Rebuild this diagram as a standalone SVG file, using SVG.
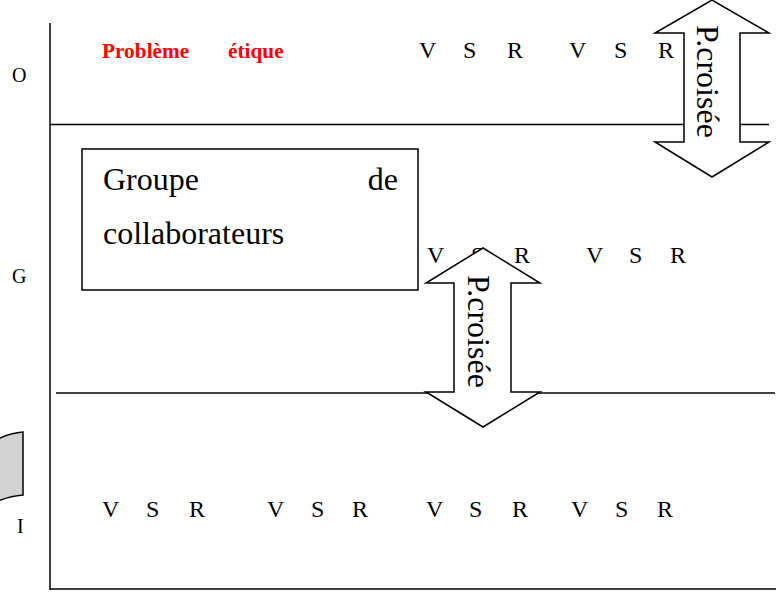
<svg xmlns="http://www.w3.org/2000/svg" width="779" height="595" viewBox="0 0 779 595">
<style>
.t{font-family:"Liberation Serif","Times New Roman",serif;fill:#000}
.v{font-size:24px}
.lbl{font-size:20px}
.big{font-size:32px}
.red{font-family:"Liberation Serif","Times New Roman",serif;font-weight:bold;font-size:21.33px;fill:#ff0000}
.ln{stroke:#000;stroke-width:1.5;fill:none}
.arr{fill:#fff;stroke:#000;stroke-width:1.5;stroke-linejoin:miter}
</style>
<rect width="779" height="595" fill="#fff"/>
<g id="connectors">
<line class="ln" x1="50" y1="23" x2="50" y2="590"/>
<line class="ln" x1="50" y1="589" x2="776" y2="589" stroke-width="2.5"/>
<line class="ln" x1="50" y1="124.5" x2="769" y2="124.5"/>
<line class="ln" x1="56" y1="393" x2="775" y2="393"/>
</g>
<g id="labels">
<text class="t lbl" x="12" y="82">O</text>
<text class="t lbl" x="12" y="283">G</text>
<text class="t lbl" x="17" y="533">I</text>
</g>
<g id="probleme">
<text class="red" x="102" y="58">Problème</text>
<text class="red" x="228" y="58">étique</text>
</g>
<g id="row-top" class="t v">
<text x="419" y="58">V</text><text x="463" y="58">S</text><text x="507" y="58">R</text>
<text x="569" y="58">V</text><text x="614" y="58">S</text><text x="658" y="58">R</text>
</g>
<g id="row-mid" class="t v">
<text x="427" y="263">V</text><text x="471" y="263">S</text><text x="514" y="263">R</text>
<text x="586" y="263">V</text><text x="629" y="263">S</text><text x="670" y="263">R</text>
</g>
<g id="row-bottom" class="t v">
<text x="102" y="517">V</text><text x="146" y="517">S</text><text x="189" y="517">R</text>
<text x="267" y="517">V</text><text x="311" y="517">S</text><text x="352" y="517">R</text>
<text x="426" y="517">V</text><text x="469" y="517">S</text><text x="512" y="517">R</text>
<text x="571" y="517">V</text><text x="615" y="517">S</text><text x="657" y="517">R</text>
</g>
<g id="groupe">
<rect x="82" y="149" width="336" height="141" fill="#fff" stroke="#000" stroke-width="1.5"/>
<text class="t big" x="103" y="190">Groupe</text>
<text class="t big" x="398" y="190" text-anchor="end">de</text>
<text class="t big" x="103" y="244">collaborateurs</text>
</g>
<g id="shape-gray">
<path d="M-2,439 Q10,433 23,432 L23,495 Q10,496 -2,501 Z" fill="#d3d3d3" stroke="#000" stroke-width="1.5"/>
</g>
<g id="arrow-top">
<polygon class="arr" points="712,0 769,33 740,33 740,142 769,142 712,177 655,142 684,142 684,33 655,33"/>
<text class="t big" transform="translate(697,25) rotate(90)">P.croisée</text>
</g>
<g id="arrow-mid">
<polygon class="arr" points="483,248 540,283 511,283 511,392 540,392 483,427 426,392 454,392 454,283 426,283"/>
<text class="t big" transform="translate(468,275) rotate(90)">P.croisée</text>
</g>
</svg>
